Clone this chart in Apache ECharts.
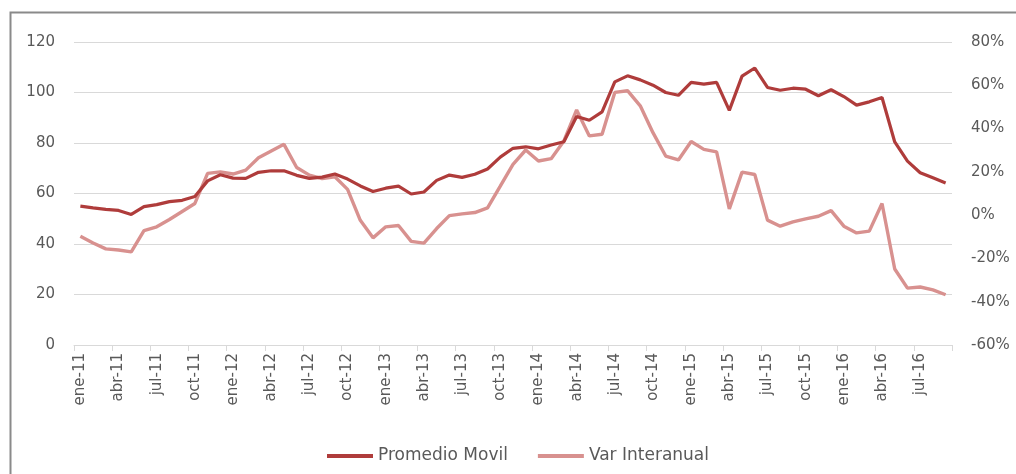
<!DOCTYPE html>
<html>
<head>
<meta charset="utf-8">
<script src="https://cdn.jsdelivr.net/npm/echarts@6/dist/echarts.min.js"></script>
<style>
html,body{margin:0;padding:0;background:#fff;}
#c{width:1016px;height:474px;}
</style>
</head>
<body>
<div id="c"></div>
<script>
var categories = [
  'ene-11','feb-11','mar-11','abr-11','may-11','jun-11','jul-11','ago-11','sep-11','oct-11','nov-11','dic-11',
  'ene-12','feb-12','mar-12','abr-12','may-12','jun-12','jul-12','ago-12','sep-12','oct-12','nov-12','dic-12',
  'ene-13','feb-13','mar-13','abr-13','may-13','jun-13','jul-13','ago-13','sep-13','oct-13','nov-13','dic-13',
  'ene-14','feb-14','mar-14','abr-14','may-14','jun-14','jul-14','ago-14','sep-14','oct-14','nov-14','dic-14',
  'ene-15','feb-15','mar-15','abr-15','may-15','jun-15','jul-15','ago-15','sep-15','oct-15','nov-15','dic-15',
  'ene-16','feb-16','mar-16','abr-16','may-16','jun-16','jul-16','ago-16','sep-16'
];
var promedioMovil = [
  55.0,54.3,53.7,53.3,51.7,54.8,55.6,56.8,57.3,58.8,
  65.0,67.4,66.1,66.0,68.4,69.0,69.0,67.2,66.0,66.5,
  67.7,65.7,63.0,60.8,62.1,62.9,59.8,60.6,65.2,67.3,
  66.4,67.6,69.7,74.4,77.9,78.5,77.7,79.2,80.5,90.5,
  89.0,92.3,104.2,106.6,105.0,102.9,100.0,98.9,104.0,103.3,
  104.0,92.9,106.5,109.7,102.0,100.9,101.7,101.3,98.7,101.1,
  98.4,95.0,96.3,98.0,80.4,72.8,68.2,66.2,64.2
];
var varInteranual = [
  -9.8,-12.9,-15.6,-16.1,-17.0,-7.1,-5.4,-2.0,1.7,5.4,
  19.3,20.0,19.0,20.8,26.5,29.6,32.7,22.0,18.5,16.9,
  17.7,11.9,-2.4,-10.5,-5.4,-4.8,-12.1,-12.9,-6.2,-0.2,
  0.6,1.2,3.4,13.4,23.5,30.1,25.0,26.1,34.3,48.6,
  36.6,37.4,56.7,57.5,50.5,38.1,27.3,25.5,34.0,30.4,
  29.2,2.9,19.9,18.8,-2.3,-5.1,-3.1,-1.7,-0.5,2.1,
  -5.1,-8.2,-7.4,5.4,-24.9,-33.7,-33.2,-34.5,-36.8
];
var seriesNames = ['Promedio Movil','Var Interanual'];

var FONT = 'DejaVu Sans';
var TXT = '#595959';
var chart = echarts.init(document.getElementById('c'), null, {renderer:'canvas'});
chart.setOption({
  animation: false,
  backgroundColor: '#fff',
  graphic: [{
    type: 'rect', left: 8, top: 10, silent: true,
    shape: {x: 0, y: 0, width: 1100, height: 1000},
    style: {fill: 'none', stroke: '#8a8a8a', lineWidth: 2}
  }],
  grid: {left: 74, right: 64, top: 42, bottom: 129, containLabel: false},
  legend: {
    top: 441, left: 322,
    itemWidth: 46, itemHeight: 4, itemGap: 30, icon: 'rect',
    textStyle: {fontFamily: FONT, fontSize: 17, color: TXT, lineHeight: 20},
    data: seriesNames
  },
  xAxis: {
    type: 'category', data: categories, boundaryGap: true,
    axisLine: {lineStyle: {color: '#d9d9d9', width: 1}},
    axisTick: {show: true, interval: 2, length: 6, lineStyle: {color: '#d9d9d9'}},
    axisLabel: {interval: 2, rotate: 90, fontFamily: FONT, fontSize: 15, color: TXT, margin: 8},
    splitLine: {show: false}
  },
  yAxis: [{
    type: 'value', min: 0, max: 120, interval: 20, position: 'left',
    axisLine: {show: false}, axisTick: {show: false},
    axisLabel: {fontFamily: FONT, fontSize: 15, color: TXT, margin: 19},
    splitLine: {lineStyle: {color: '#d9d9d9', width: 1}}
  }, {
    type: 'value', min: -60, max: 80, interval: 20, position: 'right',
    axisLine: {show: false}, axisTick: {show: false},
    axisLabel: {formatter: '{value}%', fontFamily: FONT, fontSize: 15, color: TXT, margin: 19},
    splitLine: {show: false}
  }],
  series: [{
    name: seriesNames[0], type: 'line', yAxisIndex: 0, data: promedioMovil,
    symbol: 'none', lineStyle: {color: '#AF3C3B', width: 3.2}, itemStyle: {color: '#AF3C3B'}, z: 3
  }, {
    name: seriesNames[1], type: 'line', yAxisIndex: 1, data: varInteranual,
    symbol: 'none', lineStyle: {color: '#D8918F', width: 3.4}, itemStyle: {color: '#D8918F'}, z: 2
  }]
});
</script>
</body>
</html>
